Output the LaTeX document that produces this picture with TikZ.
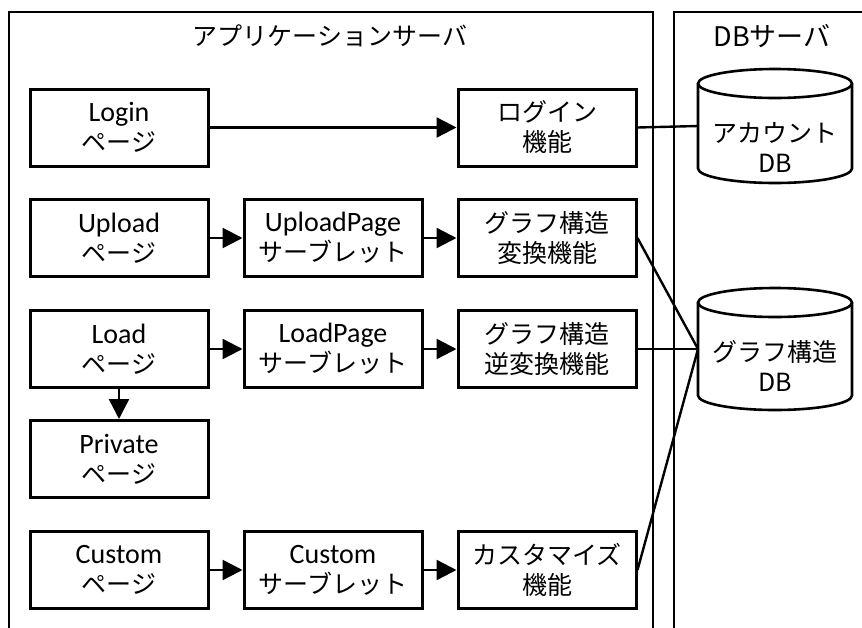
\documentclass[tikz,border=0pt]{standalone}
\usepackage{fontspec}
\setmainfont{Carlito}
\newfontfamily\jpfont{Noto Sans CJK JP}
\newcommand\jp{\jpfont\fontsize{12.5}{15}\selectfont}
\usetikzlibrary{arrows.meta, positioning}

\tikzset{
  box/.style = {draw, line width=1.5pt, minimum width=89pt, minimum height=38.5pt,
    inner sep=0pt, align=center, font=\fontsize{14}{15}\selectfont},
  jbox/.style = {box, font=\jp},
  dbbox/.style = {inner sep=0pt, outer sep=0pt, minimum width=77pt},
  frame/.style = {line width=1.4pt},
  link/.style = {line width=1.2pt},
  flow/.style = {line width=1.2pt, -{Triangle[length=10pt, width=10pt]}},
}

% cylinder drawn round a (blank) node
\newcommand\drawdb[1]{%
  \draw[line width=1.3pt] ([yshift=-7.25pt]#1.north west) -- ([yshift=7.25pt]#1.south west)
    arc[start angle=180, end angle=360, x radius=38.5pt, y radius=7.25pt]
    -- ([yshift=-7.25pt]#1.north east);
  \draw[line width=1.3pt] ([yshift=-7.25pt]#1.north) ellipse [x radius=38.5pt, y radius=7.25pt];
}

\begin{document}
\begin{tikzpicture}[x=0.5pt, y=-0.5pt, node distance=16.5pt]
			\def\xL{119};
			\def\yA{127.5};
			\def\yB{238};
			\def\yC{349};
			\def\yD{459};
			\def\yE{570};

			\useasboundingbox (0,0) rectangle (862,627);

			% the two servers, open at the bottom
			\begin{scope}[frame]
				\draw (9,640) -- (9,12) -- (653,12) -- (653,640);
				\draw (674,640) -- (674,12) -- (870,12);
			\end{scope}
			\node (apptitle) at (330,36) {\jp アプリケーションサーバ};
			\node (dbtitle) at (772,36) {\jp\fontsize{13.5}{15}\selectfont DBサーバ};

			% pages
			\node [box] (loginpage) at (\xL,\yA) {Login\\{\jp ページ}};
			\node [box] (uploadpage) at (\xL,\yB) {Upload\\{\jp ページ}};
			\node [box] (loadpage) at (\xL,\yC) {Load\\{\jp ページ}};
			\node [box] (privatepage) at (\xL,\yD) {Private\\{\jp ページ}};
			\node [box] (custompage) at (\xL,\yE) {Custom\\{\jp ページ}};

			% servlets
			\node [box, right=of uploadpage] (uploadsv) {UploadPage\\{\jp サーブレット}};
			\node [box, right=of loadpage] (loadsv) {LoadPage\\{\jp サーブレット}};
			\node [box, right=of custompage] (customsv) {Custom\\{\jp サーブレット}};

			% functions
			\node [jbox, right=of uploadsv] (convfn) {グラフ構造\\変換機能};
			\node [jbox, right=of loadsv] (invfn) {グラフ構造\\逆変換機能};
			\node [jbox, right=of customsv] (customfn) {カスタマイズ\\機能};
			\node [jbox] (loginfn) at (convfn |- loginpage) {ログイン\\機能};

			% databases
			\node [dbbox, minimum height=57pt] (acctdb) at (775,126) {};
			\drawdb{acctdb}
			\node [font=\jp, align=center] (acctlabel) at ([yshift=-10.5pt]acctdb.center) {アカウント\\DB};
			\node [dbbox, minimum height=61pt] (graphdb) at (775,349) {};
			\drawdb{graphdb}
			\node [font=\jp, align=center] (graphlabel) at ([yshift=-8.5pt]graphdb.center) {グラフ構造\\DB};

			\begin{scope}[flow]
				\draw (loginpage) -- (loginfn);
				\draw (uploadpage) -- (uploadsv);
				\draw (uploadsv) -- (convfn);
				\draw (loadpage) -- (loadsv);
				\draw (loadsv) -- (invfn);
				\draw (loadpage) -- (privatepage);
				\draw (custompage) -- (customsv);
				\draw (customsv) -- (customfn);
			\end{scope}

			\begin{scope}[link]
				\draw (loginfn.east) -- (acctdb.west);
				\draw (convfn.east) -- (graphdb.west);
				\draw (invfn.east) -- (graphdb.west);
				\draw (customfn.east) -- (graphdb.west);
			\end{scope}
		\end{tikzpicture}
\end{document}
